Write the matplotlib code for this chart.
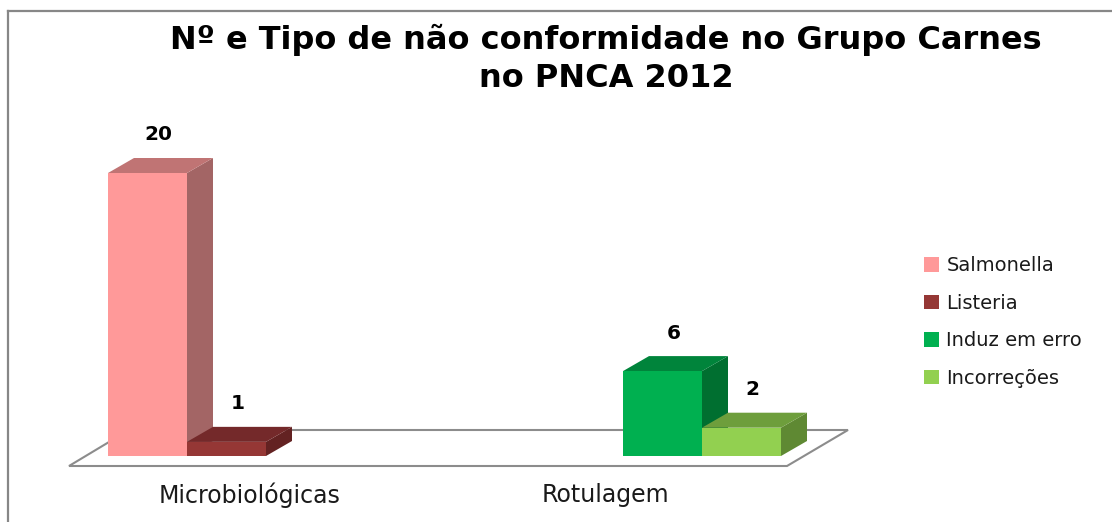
import matplotlib
matplotlib.use("Agg")
import matplotlib.pyplot as plt
from matplotlib.patches import Polygon, Patch
from matplotlib.lines import Line2D

# ---- data ----
categories = ["Microbiológicas", "Rotulagem"]
series_names = ["Salmonella", "Listeria", "Induz em erro", "Incorreções"]
series_group = [0, 0, 1, 1]          # which category each series belongs to
series_values = [20, 1, 6, 2]

front_colors = ["#FF9999", "#953735", "#00B050", "#92D050"]
top_colors = ["#C07474", "#74292A", "#00843B", "#6E9E3C"]
side_colors = ["#A36565", "#632222", "#006F30", "#5F8933"]

# ---- layout (pixel based, figure 1112 x 522) ----
W, H = 1112, 522
BASE_PX = 456                 # pixel row of value 0 on bar fronts
PX_PER_UNIT = 283 / 20        # vertical scale
group_left = [108, 623]       # left edge of first bar in each category
bar_w = 79
depth_dx = 26                 # 3D depth offset (pixels)
depth_dy = 15
cat_label_x = [250, 605]
cat_label_y = 495


def yv(py):
    """pixel row -> value coordinate"""
    return (BASE_PX - py) / PX_PER_UNIT


fig = plt.figure(figsize=(W / 100, H / 100), dpi=100)
ax = fig.add_axes([0, 0, 1, 1])
ax.set_xlim(0, W)
ax.set_ylim(yv(H), yv(0))
ax.axis("off")

# outer chart frame (left and top edges)
frame_kw = dict(color="#878787", lw=1.6, transform=fig.transFigure)
fig.add_artist(Line2D([8 / W, 8 / W], [0, 1 - 11 / H], **frame_kw))
fig.add_artist(Line2D([8 / W, 1.01], [1 - 11 / H, 1 - 11 / H], **frame_kw))

# floor of the 3D plot
floor = Polygon([(69, yv(466)), (787, yv(466)), (848, yv(430)), (129, yv(430))],
                closed=True, facecolor="white", edgecolor="#8C8C8C", lw=1.5, zorder=1)
ax.add_patch(floor)

ddy = depth_dy / PX_PER_UNIT
slot = [0, 0]
for i, (g, v) in enumerate(zip(series_group, series_values)):
    x0 = group_left[g] + slot[g] * bar_w
    slot[g] += 1
    z = 2 + i * 3
    ax.bar(x0, v, width=bar_w, bottom=0, align="edge",
           color=front_colors[i], edgecolor="none", zorder=z + 2)
    side = Polygon([(x0 + bar_w, 0), (x0 + bar_w + depth_dx, ddy),
                    (x0 + bar_w + depth_dx, v + ddy), (x0 + bar_w, v)],
                   closed=True, facecolor=side_colors[i], edgecolor="none", zorder=z)
    top = Polygon([(x0, v), (x0 + depth_dx, v + ddy),
                   (x0 + bar_w + depth_dx, v + ddy), (x0 + bar_w, v)],
                  closed=True, facecolor=top_colors[i], edgecolor="none", zorder=z + 1)
    ax.add_patch(side)
    ax.add_patch(top)
    ax.text(x0 + (bar_w + depth_dx) / 2 - 2, v + ddy + 23 / PX_PER_UNIT, f"{v}",
            ha="center", va="center", fontsize=14.5, fontweight="bold",
            color="black", zorder=30)

for name, xc in zip(categories, cat_label_x):
    ax.text(xc, yv(cat_label_y), name, ha="center", va="center",
            fontsize=17, color="#1a1a1a")

fig.text(606 / W, 1 - 59 / H, "Nº e Tipo de não conformidade no Grupo Carnes\nno PNCA 2012",
         ha="center", va="center", fontsize=23, fontweight="bold",
         linespacing=1.27, color="black")

handles = [Patch(facecolor=c, edgecolor="none") for c in front_colors]
fig.legend(handles, series_names, loc="center left",
           bbox_to_anchor=(924 / W, 1 - 322 / H), frameon=False,
           fontsize=14, handlelength=0.75, handleheight=0.75,
           handletextpad=0.4, labelspacing=0.95, borderpad=0, borderaxespad=0,
           labelcolor="#1a1a1a")

fig.savefig("out.png", dpi=100)
